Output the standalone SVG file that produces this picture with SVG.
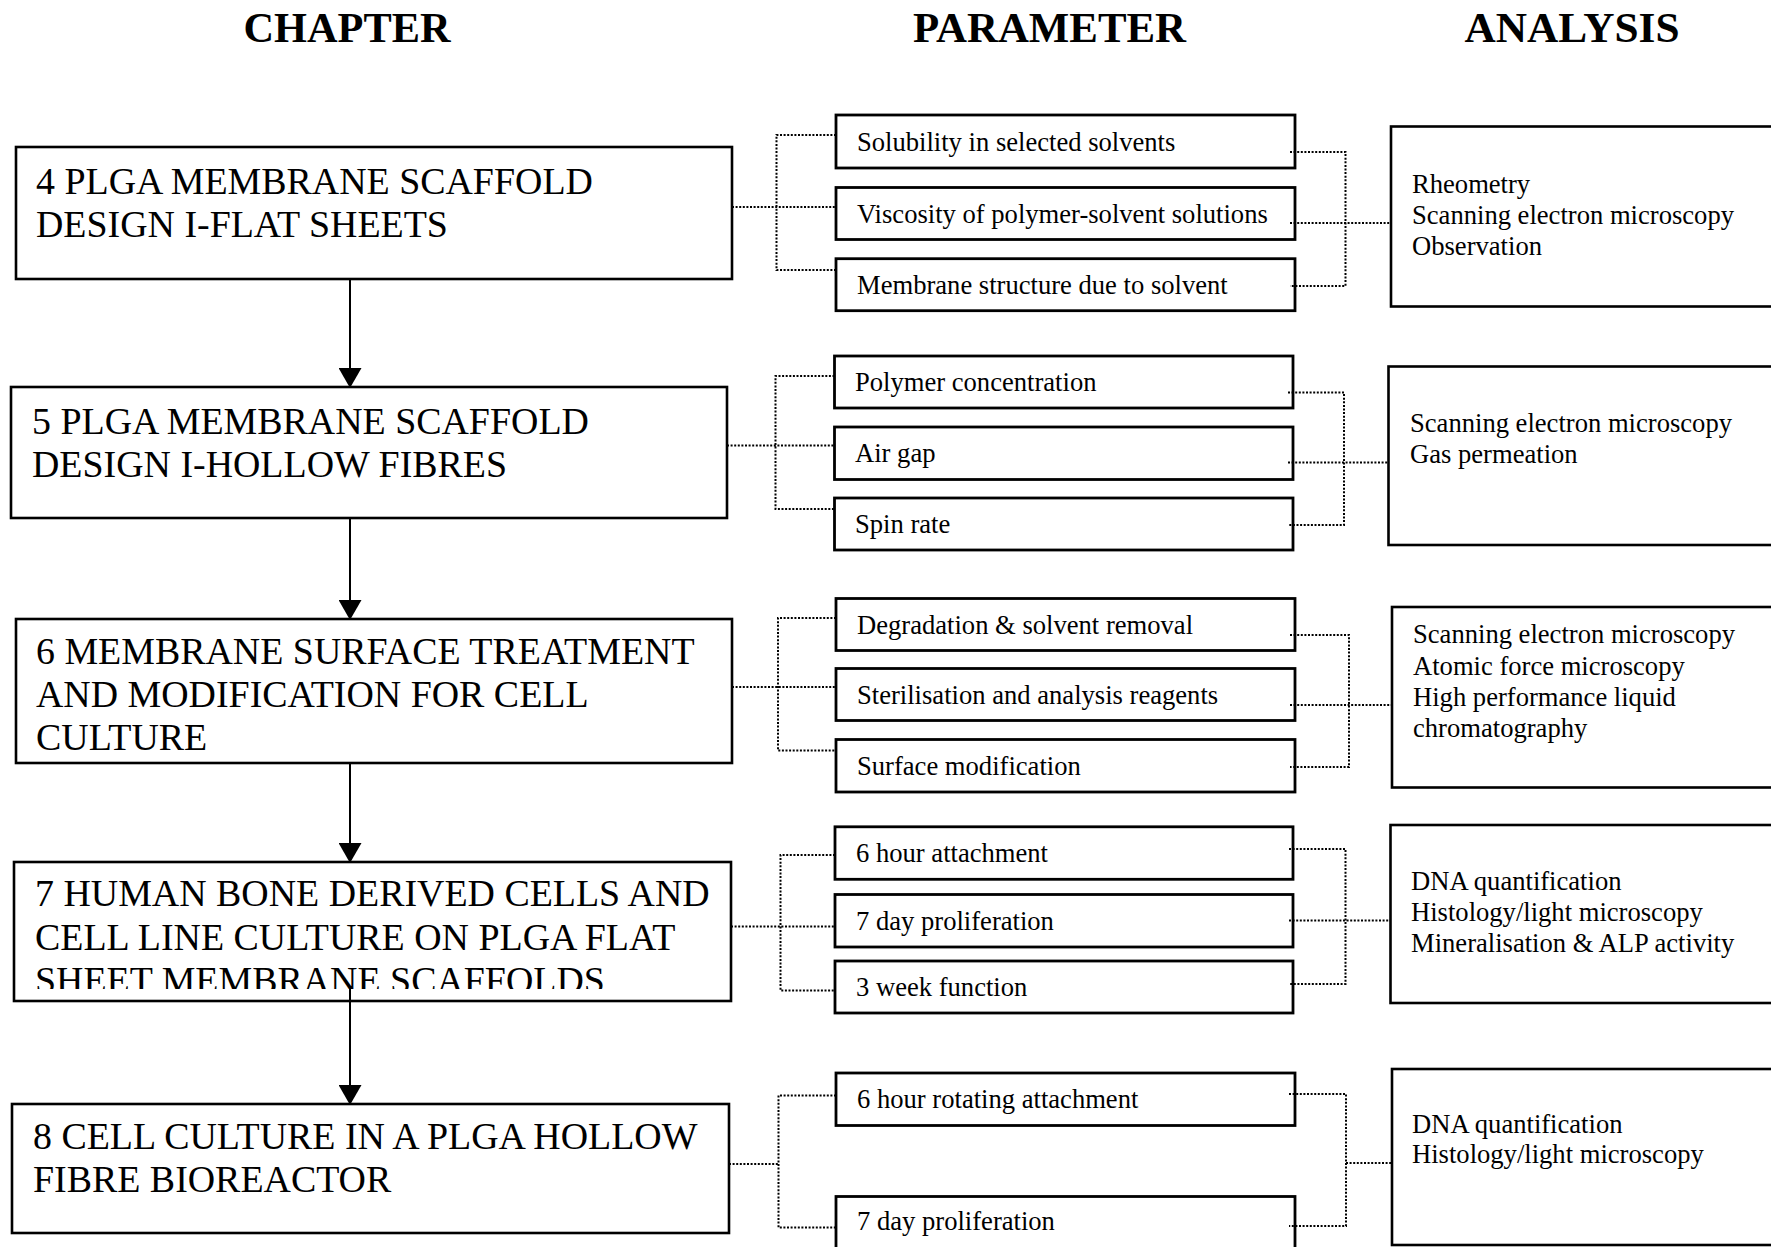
<svg xmlns="http://www.w3.org/2000/svg" width="1771" height="1247" viewBox="0 0 1771 1247">
<style>
.hdr{font-family:"Liberation Serif","Times New Roman",serif;font-weight:bold;font-size:43px;fill:#000;text-anchor:middle}
.ch{font-family:"Liberation Serif","Times New Roman",serif;font-size:37.9px;fill:#000}
.pt{font-family:"Liberation Serif","Times New Roman",serif;font-size:26.6px;fill:#000}
.cbox{fill:#fff;stroke:#000;stroke-width:2.6}
.pbox{fill:#fff;stroke:#000;stroke-width:2.8}
.abox{fill:#fff;stroke:#000;stroke-width:2.6}
.dot{fill:none;stroke:#000;stroke-width:2;stroke-dasharray:2 1.6}
.arr{fill:none;stroke:#000;stroke-width:2}
</style>
<defs>
<marker id="ah" markerUnits="userSpaceOnUse" markerWidth="20" markerHeight="23" viewBox="0 0 20 23" refX="20" refY="11.5" orient="auto">
<path d="M0,0 L20,11.5 L0,23 z" fill="#000"/>
</marker>
<clipPath id="c7"><rect x="14" y="862" width="717" height="127"/></clipPath>
</defs>
<rect width="1771" height="1247" fill="#fff"/>

<g id="headers">
<text class="hdr" x="347" y="42" textLength="207" lengthAdjust="spacingAndGlyphs">CHAPTER</text>
<text class="hdr" x="1049.5" y="42" textLength="273" lengthAdjust="spacingAndGlyphs">PARAMETER</text>
<text class="hdr" x="1572" y="42" textLength="215" lengthAdjust="spacingAndGlyphs">ANALYSIS</text>
</g>

<g id="ch4"><rect class="cbox" x="16" y="147" width="716" height="132"/>
<text class="ch" x="36" y="194">4 PLGA MEMBRANE SCAFFOLD</text>
<text class="ch" x="36" y="237">DESIGN I-FLAT SHEETS</text></g>
<g id="ch5"><rect class="cbox" x="11" y="387" width="716" height="131"/>
<text class="ch" x="32" y="434">5 PLGA MEMBRANE SCAFFOLD</text>
<text class="ch" x="32" y="477">DESIGN I-HOLLOW FIBRES</text></g>
<g id="ch6"><rect class="cbox" x="16" y="619" width="716" height="144"/>
<text class="ch" x="36" y="664">6 MEMBRANE SURFACE TREATMENT</text>
<text class="ch" x="36" y="707">AND MODIFICATION FOR CELL</text>
<text class="ch" x="36" y="750">CULTURE</text></g>
<g id="ch7"><rect class="cbox" x="14" y="862" width="717" height="139"/>
<g clip-path="url(#c7)">
<text class="ch" x="35" y="906">7 HUMAN BONE DERIVED CELLS AND</text>
<text class="ch" x="35" y="949.5">CELL LINE CULTURE ON PLGA FLAT</text>
<text class="ch" x="35" y="993">SHEET MEMBRANE SCAFFOLDS</text></g></g>
<g id="ch8"><rect class="cbox" x="12" y="1104" width="717" height="129"/>
<text class="ch" x="33" y="1149">8 CELL CULTURE IN A PLGA HOLLOW</text>
<text class="ch" x="33" y="1192">FIBRE BIOREACTOR</text></g>

<g id="p1a"><rect class="pbox" x="836" y="115" width="459" height="53"/><text class="pt" x="857" y="150.5">Solubility in selected solvents</text></g>
<g id="p1b"><rect class="pbox" x="836" y="187.5" width="459" height="52"/><text class="pt" x="857" y="222.5">Viscosity of polymer-solvent solutions</text></g>
<g id="p1c"><rect class="pbox" x="836" y="258.7" width="459" height="52"/><text class="pt" x="857" y="293.7">Membrane structure due to solvent</text></g>

<g id="p2a"><rect class="pbox" x="834.5" y="356" width="458.5" height="52"/><text class="pt" x="855" y="391">Polymer concentration</text></g>
<g id="p2b"><rect class="pbox" x="834.5" y="427" width="458.5" height="52.5"/><text class="pt" x="855" y="462">Air gap</text></g>
<g id="p2c"><rect class="pbox" x="834.5" y="498" width="458.5" height="52"/><text class="pt" x="855" y="533">Spin rate</text></g>

<g id="p3a"><rect class="pbox" x="836" y="598.5" width="459" height="52"/><text class="pt" x="857" y="633.5">Degradation &amp; solvent removal</text></g>
<g id="p3b"><rect class="pbox" x="836" y="668.5" width="459" height="52"/><text class="pt" x="857" y="703.5">Sterilisation and analysis reagents</text></g>
<g id="p3c"><rect class="pbox" x="836" y="739.5" width="459" height="52.5"/><text class="pt" x="857" y="774.5">Surface modification</text></g>

<g id="p4a"><rect class="pbox" x="835" y="826.8" width="458" height="52.5"/><text class="pt" x="856" y="861.8">6 hour attachment</text></g>
<g id="p4b"><rect class="pbox" x="835" y="894.5" width="458" height="52.5"/><text class="pt" x="856" y="929.5">7 day proliferation</text></g>
<g id="p4c"><rect class="pbox" x="835" y="961" width="458" height="52"/><text class="pt" x="856" y="996">3 week function</text></g>

<g id="p5a"><rect class="pbox" x="836" y="1073" width="459" height="52.5"/><text class="pt" x="857" y="1108">6 hour rotating attachment</text></g>
<g id="p5b"><rect class="pbox" x="836" y="1196.5" width="459" height="70"/><text class="pt" x="857" y="1230">7 day proliferation</text></g>

<g id="a1"><rect class="abox" x="1391" y="126.5" width="420" height="180"/>
<text class="pt" x="1412" y="193">Rheometry</text>
<text class="pt" x="1412" y="224">Scanning electron microscopy</text>
<text class="pt" x="1412" y="255">Observation</text></g>
<g id="a2"><rect class="abox" x="1388.5" y="366.5" width="420" height="178.5"/>
<text class="pt" x="1410" y="432">Scanning electron microscopy</text>
<text class="pt" x="1410" y="463">Gas permeation</text></g>
<g id="a3"><rect class="abox" x="1392" y="607" width="420" height="180.5"/>
<text class="pt" x="1413" y="643">Scanning electron microscopy</text>
<text class="pt" x="1413" y="674.5">Atomic force microscopy</text>
<text class="pt" x="1413" y="706">High performance liquid</text>
<text class="pt" x="1413" y="736.5">chromatography</text></g>
<g id="a4"><rect class="abox" x="1390.5" y="825" width="420" height="178"/>
<text class="pt" x="1411" y="890">DNA quantification</text>
<text class="pt" x="1411" y="921">Histology/light microscopy</text>
<text class="pt" x="1411" y="952">Mineralisation &amp; ALP activity</text></g>
<g id="a5"><rect class="abox" x="1392" y="1069" width="420" height="176"/>
<text class="pt" x="1412" y="1133">DNA quantification</text>
<text class="pt" x="1412" y="1163">Histology/light microscopy</text></g>

<g id="connectors">
<line class="arr" x1="350" y1="279" x2="350" y2="388" marker-end="url(#ah)"/>
<line class="arr" x1="350" y1="518" x2="350" y2="620" marker-end="url(#ah)"/>
<line class="arr" x1="350" y1="763" x2="350" y2="863" marker-end="url(#ah)"/>
<line class="arr" x1="350" y1="988" x2="350" y2="1105" marker-end="url(#ah)"/>

<path class="dot" d="M732,207 H836 M836,135 H776.5 V270 H836"/>
<path class="dot" d="M1290,152 H1345.5 V286 H1290 M1290,223 H1391"/>

<path class="dot" d="M727,445.5 H834.5 M834.5,376 H775.5 V509 H834.5"/>
<path class="dot" d="M1288,392.5 H1344 V525 H1288 M1288,462.5 H1388.5"/>

<path class="dot" d="M732,687 H836 M836,618 H778 V750.5 H836"/>
<path class="dot" d="M1290,635 H1349 V767 H1290 M1290,705 H1392"/>

<path class="dot" d="M731,926.5 H835 M835,855 H780.5 V990.5 H835"/>
<path class="dot" d="M1289,849 H1345.5 V984 H1289 M1289,920.5 H1390.5"/>

<path class="dot" d="M729,1164 H778.5 M836,1095.5 H778.5 V1227.5 H836"/>
<path class="dot" d="M1289,1094 H1346 V1226 H1289 M1346,1163 H1392"/>
</g>
</svg>
